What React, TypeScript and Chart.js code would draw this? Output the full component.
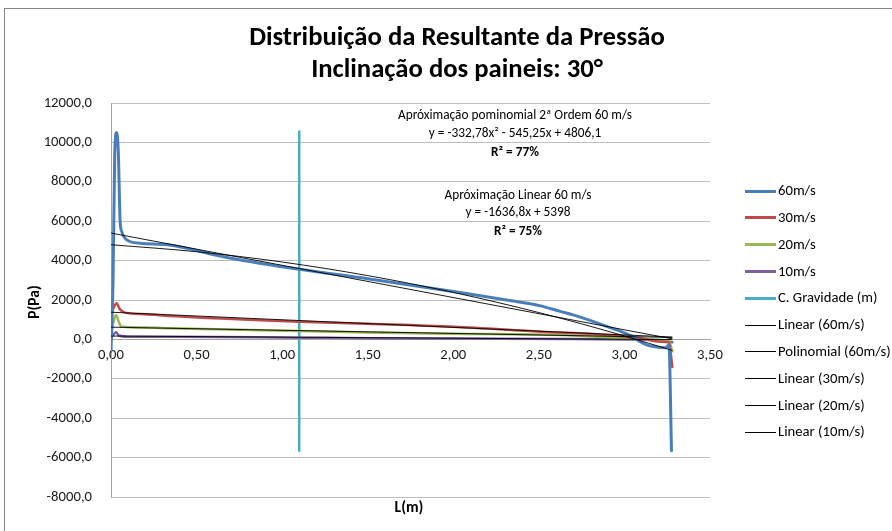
import React, { useEffect, useRef } from 'react';
import { Chart, registerables } from 'chart.js';

Chart.register(...registerables);

// ---- data ----
const seriesLabels = ['60m/s', '30m/s', '20m/s', '10m/s', 'C. Gravidade (m)'];
const trendLabels = ['Linear (60m/s)', 'Polinomial (60m/s)', 'Linear (30m/s)', 'Linear (20m/s)', 'Linear (10m/s)'];

const x60 = [0, 0.012, 0.022, 0.033, 0.043, 0.053, 0.063, 0.092, 0.17, 0.33, 0.7, 1.1, 1.5, 2.04, 2.33, 2.51, 2.63, 2.7, 2.9, 3.05, 3.09, 3.13, 3.17, 3.24, 3.26, 3.275];
const y60 = [-600, 3000, 9500, 10500, 9450, 6050, 5470, 5050, 4880, 4800, 4120, 3560, 3080, 2380, 1970, 1700, 1410, 1245, 650, 130, -110, -280, -365, -430, -280, -5650];

const x30 = [0, 0.015, 0.033, 0.05, 0.082, 0.2, 0.345, 1.1, 1.5, 2.0, 2.51, 2.9, 3.09, 3.21, 3.26, 3.28];
const y30 = [1300, 1600, 1830, 1550, 1360, 1280, 1190, 900, 790, 640, 390, 224, 56, -117, -150, -1400];

const x20 = [0, 0.015, 0.03, 0.045, 0.06, 0.2, 0.345, 1.1, 1.5, 2.0, 2.63, 2.9, 3.1, 3.2, 3.26, 3.28];
const y20 = [300, 900, 1240, 900, 650, 600, 565, 427, 350, 290, 224, 107, 20, -20, -100, -600];

const x10 = [0, 0.015, 0.03, 0.045, 0.1, 0.345, 1.1, 1.5, 2.0, 2.63, 3.0, 3.2, 3.28];
const y10 = [50, 250, 360, 200, 140, 140, 90, 60, 40, 20, 0, -40, -150];

const xGrav = [1.1, 1.1];
const yGrav = [-5650, 10550];

const xLin60 = [0, 3.28];
const yLin60 = [5398, 29];
const xPoly60 = [0, 0.5, 1, 1.5, 2, 2.5, 3, 3.28];
const yPoly60 = [4806.1, 4450.3, 3928.1, 3239.5, 2384.5, 1363.1, 175.3, -562.5];
const xLin30 = [0, 3.28];
const yLin30 = [1380, 120];
const xLin20 = [0, 3.28];
const yLin20 = [620, 100];
const xLin10 = [0, 3.28];
const yLin10 = [170, -10];

const titleLines = ['Distribuição da Resultante da Pressão', 'Inclinação dos paineis: 30°'];
const polyNote = ['Apróximação pominomial 2ª Ordem 60 m/s', 'y = -332,78x² - 545,25x + 4806,1', 'R² = 77%'];
const linNote = ['Apróximação Linear 60 m/s', 'y = -1636,8x + 5398', 'R² = 75%'];
const xTitle = 'L(m)';
const yTitle = 'P(Pa)';

const xMin = 0, xMax = 3.5, xStep = 0.5;
const yMin = -8000, yMax = 12000, yStep = 2000;

const FONT = "Carlito, Calibri, Lato, 'Noto Sans', sans-serif";

const pts = (xs: number[], ys: number[]) => xs.map((x, i) => ({ x, y: ys[i] }));

const overlayPlugin = {
  id: 'overlay',
  beforeDraw(chart: any) {
    const ctx = chart.ctx;
    ctx.save();
    ctx.fillStyle = '#ffffff';
    ctx.fillRect(0, 0, chart.width, chart.height);
    ctx.strokeStyle = '#868686';
    ctx.lineWidth = 1;
    ctx.strokeRect(4.5, 8.5, chart.width + 20, chart.height + 20);
    ctx.restore();
  },
  afterDraw(chart: any) {
    const ctx = chart.ctx;
    ctx.save();
    ctx.fillStyle = '#000000';
    ctx.textAlign = 'center';
    ctx.textBaseline = 'middle';
    // title
    ctx.font = `bold 26.7px ${FONT}`;
    ctx.fillText(titleLines[0], 457, 38);
    ctx.fillText(titleLines[1], 457, 70);
    // notes
    ctx.font = `13.3px ${FONT}`;
    ctx.fillText(polyNote[0], 515, 116);
    ctx.fillText(polyNote[1], 515, 134);
    ctx.font = `bold 13.3px ${FONT}`;
    ctx.fillText(polyNote[2], 515, 153);
    ctx.font = `13.3px ${FONT}`;
    ctx.fillText(linNote[0], 518, 196);
    ctx.fillText(linNote[1], 518, 213);
    ctx.font = `bold 13.3px ${FONT}`;
    ctx.fillText(linNote[2], 518, 232);
    // axis titles
    ctx.font = `bold 15.5px ${FONT}`;
    ctx.fillText(xTitle, 409, 508);
    ctx.save();
    ctx.translate(35, 302);
    ctx.rotate(-Math.PI / 2);
    ctx.fillText(yTitle, 0, 0);
    ctx.restore();
    // legend
    ctx.textAlign = 'left';
    ctx.font = `14.7px ${FONT}`;
    chart.data.datasets.forEach((ds: any, i: number) => {
      const y = 190.5 + i * 26.8;
      ctx.strokeStyle = ds.borderColor;
      ctx.lineWidth = ds.legendWidth;
      ctx.beginPath();
      ctx.moveTo(745, Math.round(y) + (ds.legendWidth % 2 ? 0.5 : 0));
      ctx.lineTo(776, Math.round(y) + (ds.legendWidth % 2 ? 0.5 : 0));
      ctx.stroke();
      ctx.fillStyle = '#000000';
      ctx.fillText(ds.label, 778, y + 1);
    });
    ctx.restore();
  },
};

const seriesColors = ['#4A7EBB', '#BE4B48', '#98B954', '#7D60A0', '#4BACC6'];

export default function App() {
  const ref = useRef<HTMLCanvasElement>(null);
  useEffect(() => {
    const seriesData = [pts(x60, y60), pts(x30, y30), pts(x20, y20), pts(x10, y10), pts(xGrav, yGrav)];
    const trendData = [pts(xLin60, yLin60), pts(xPoly60, yPoly60), pts(xLin30, yLin30), pts(xLin20, yLin20), pts(xLin10, yLin10)];
    const datasets: any[] = [];
    seriesData.forEach((d, i) => {
      datasets.push({
        label: seriesLabels[i],
        data: d,
        showLine: true,
        borderColor: seriesColors[i],
        backgroundColor: seriesColors[i],
        borderWidth: i === 0 ? 3 : 2.5,
        legendWidth: 3,
        pointRadius: 0,
        cubicInterpolationMode: 'monotone',
        tension: 0.4,
        order: 1,
        borderCapStyle: 'round',
        borderJoinStyle: 'round',
      });
    });
    trendData.forEach((d, i) => {
      datasets.push({
        label: trendLabels[i],
        data: d,
        showLine: true,
        borderColor: '#000000',
        backgroundColor: '#000000',
        borderWidth: 0.9,
        legendWidth: 1,
        pointRadius: 0,
        cubicInterpolationMode: 'monotone',
        tension: 0.4,
        order: 0,
      });
    });
    const chart = new Chart(ref.current as HTMLCanvasElement, {
      type: 'scatter',
      data: { datasets },
      options: {
        animation: false,
        responsive: false,
        layout: { padding: { left: 0, top: 103, right: 182, bottom: 34 } },
        plugins: { legend: { display: false }, title: { display: false }, tooltip: { enabled: false } },
        scales: {
          x: {
            type: 'linear',
            position: { y: 0 } as any,
            min: xMin,
            max: xMax,
            grid: { display: false, drawTicks: false },
            border: { display: true, color: '#a6a6a6', width: 1 },
            ticks: {
              stepSize: xStep,
              padding: 7,
              color: '#1a1a1a',
              font: { family: FONT, size: 14.7 },
              callback: (v: any) => Number(v).toFixed(2).replace('.', ','),
            },
          },
          y: {
            type: 'linear',
            min: yMin,
            max: yMax,
            afterFit: (s: any) => { s.width = 111; },
            grid: { color: '#bfbfbf', lineWidth: 1, drawTicks: false },
            border: { display: true, color: '#a6a6a6', width: 1 },
            ticks: {
              stepSize: yStep,
              padding: 19,
              color: '#1a1a1a',
              font: { family: FONT, size: 14.7 },
              callback: (v: any) => Number(v).toFixed(1).replace('.', ','),
            },
          },
        },
      },
      plugins: [overlayPlugin],
    } as any);
    return () => chart.destroy();
  }, []);
  return (
    <div style={{ position: 'absolute', left: 0, top: 0, width: 892, height: 531 }}>
      <canvas ref={ref} width={892} height={531} style={{ display: 'block' }} />
    </div>
  );
}
